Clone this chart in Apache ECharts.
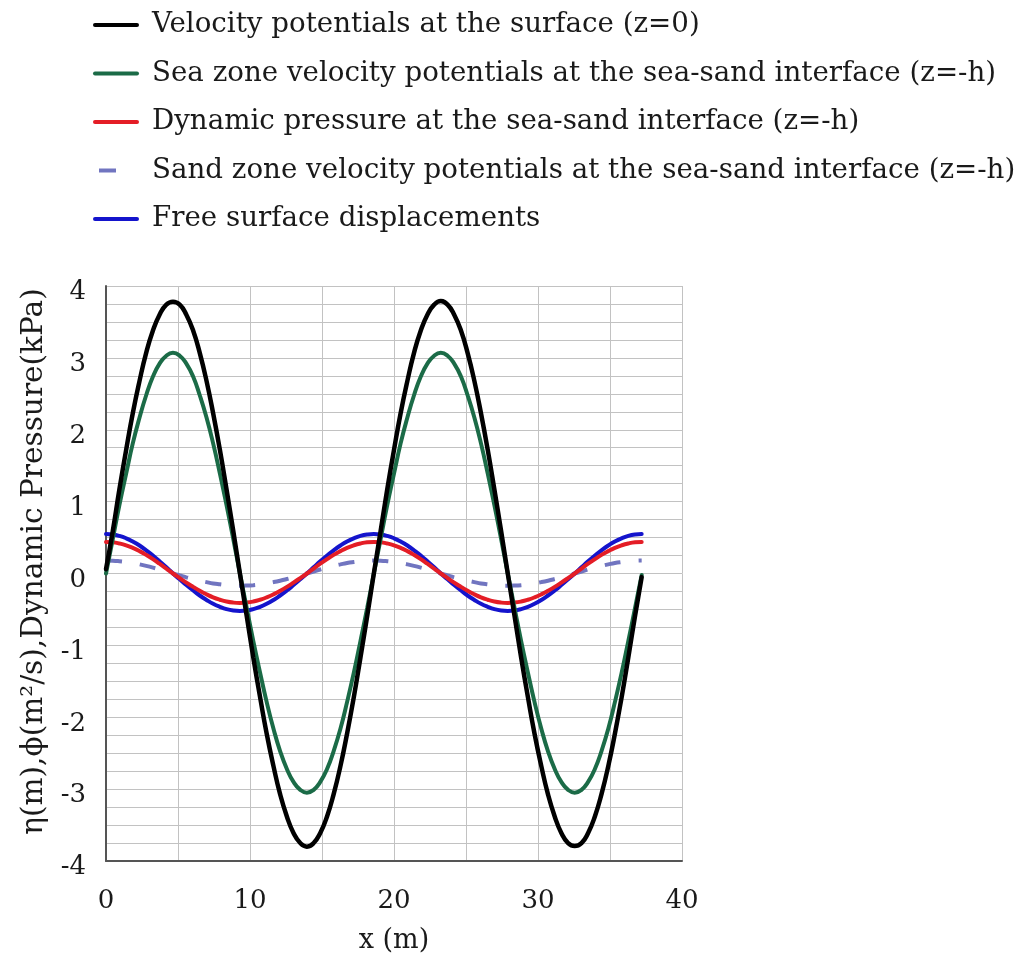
<!DOCTYPE html>
<html>
<head>
<meta charset="utf-8">
<script src="https://cdn.jsdelivr.net/npm/echarts@6/dist/echarts.min.js"></script>
<style>
  html, body { margin: 0; padding: 0; background: #fff; }
  #chart { width: 1022px; height: 963px; }
</style>
</head>
<body>
<div id="chart"></div>
<script>
// Horizontal positions along the profile (m)
const xPos = [
  0, 0.47, 0.93, 1.40, 1.86, 2.33, 2.79, 3.26, 3.72, 4.19,
  4.65, 5.12, 5.58, 6.05, 6.51, 6.98, 7.44, 7.91, 8.37, 8.84,
  9.30, 9.77, 10.23, 10.70, 11.16, 11.63, 12.09, 12.56, 13.02, 13.49,
  13.95, 14.42, 14.88, 15.35, 15.81, 16.28, 16.74, 17.21, 17.67, 18.14,
  18.60, 19.07, 19.53, 20.00, 20.46, 20.93, 21.39, 21.86, 22.32, 22.79,
  23.25, 23.72, 24.18, 24.65, 25.11, 25.58, 26.04, 26.51, 26.97, 27.44,
  27.90, 28.37, 28.83, 29.30, 29.76, 30.23, 30.69, 31.16, 31.62, 32.09,
  32.55, 33.02, 33.48, 33.95, 34.41, 34.88, 35.34, 35.81, 36.27, 36.74,
  37.20];

// Velocity potential at the free surface, z = 0 (m²/s)
const phiSurface = [
  0.06, 0.59, 1.17, 1.72, 2.23, 2.68, 3.07, 3.38, 3.60, 3.74,
  3.78, 3.74, 3.60, 3.38, 3.07, 2.68, 2.23, 1.72, 1.17, 0.59,
  0.00, -0.59, -1.17, -1.72, -2.23, -2.68, -3.07, -3.38, -3.61, -3.75,
  -3.80, -3.75, -3.61, -3.38, -3.07, -2.68, -2.23, -1.72, -1.17, -0.59,
  0.00, 0.59, 1.17, 1.72, 2.23, 2.68, 3.07, 3.38, 3.60, 3.74,
  3.79, 3.74, 3.60, 3.38, 3.07, 2.68, 2.23, 1.72, 1.17, 0.59,
  0.00, -0.59, -1.17, -1.72, -2.23, -2.68, -3.07, -3.38, -3.61, -3.75,
  -3.79, -3.75, -3.61, -3.38, -3.07, -2.68, -2.23, -1.72, -1.17, -0.59,
  -0.05];

// Sea-zone velocity potential at the sea-sand interface, z = -h
const phiSeaBed = [
  0.00, 0.48, 0.95, 1.39, 1.81, 2.17, 2.48, 2.74, 2.92, 3.03,
  3.07, 3.03, 2.92, 2.74, 2.48, 2.17, 1.81, 1.39, 0.95, 0.48,
  0.00, -0.48, -0.94, -1.38, -1.79, -2.16, -2.47, -2.72, -2.90, -3.01,
  -3.05, -3.01, -2.90, -2.72, -2.47, -2.16, -1.79, -1.38, -0.94, -0.48,
  0.00, 0.48, 0.95, 1.39, 1.81, 2.17, 2.48, 2.74, 2.92, 3.03,
  3.07, 3.03, 2.92, 2.74, 2.48, 2.17, 1.81, 1.39, 0.95, 0.48,
  0.00, -0.48, -0.94, -1.38, -1.79, -2.16, -2.47, -2.72, -2.90, -3.01,
  -3.05, -3.01, -2.90, -2.72, -2.47, -2.16, -1.79, -1.38, -0.94, -0.48,
  -0.02];

// Dynamic pressure at the sea-sand interface (kPa)
const pressureBed = [
  0.440, 0.435, 0.418, 0.392, 0.356, 0.311, 0.259, 0.200, 0.136, 0.069,
  0.000, -0.064, -0.127, -0.186, -0.241, -0.290, -0.332, -0.365, -0.390, -0.405,
  -0.410, -0.405, -0.390, -0.365, -0.332, -0.290, -0.241, -0.186, -0.127, -0.064,
  0.000, 0.069, 0.136, 0.200, 0.259, 0.311, 0.356, 0.392, 0.418, 0.435,
  0.440, 0.435, 0.418, 0.392, 0.356, 0.311, 0.259, 0.200, 0.136, 0.069,
  0.000, -0.064, -0.127, -0.186, -0.241, -0.290, -0.332, -0.365, -0.390, -0.405,
  -0.410, -0.405, -0.390, -0.365, -0.332, -0.290, -0.241, -0.186, -0.127, -0.064,
  0.000, 0.069, 0.136, 0.200, 0.259, 0.311, 0.356, 0.392, 0.418, 0.435,
  0.440];

// Sand-zone velocity potential at the sea-sand interface
const phiSandBed = [
  0.180, 0.178, 0.171, 0.160, 0.146, 0.127, 0.106, 0.082, 0.056, 0.028,
  0.000, -0.027, -0.053, -0.077, -0.100, -0.120, -0.138, -0.151, -0.162, -0.168,
  -0.170, -0.168, -0.162, -0.151, -0.138, -0.120, -0.100, -0.077, -0.053, -0.027,
  0.000, 0.028, 0.056, 0.082, 0.106, 0.127, 0.146, 0.160, 0.171, 0.178,
  0.180, 0.178, 0.171, 0.160, 0.146, 0.127, 0.106, 0.082, 0.056, 0.028,
  0.000, -0.027, -0.053, -0.077, -0.100, -0.120, -0.138, -0.151, -0.162, -0.168,
  -0.170, -0.168, -0.162, -0.151, -0.138, -0.120, -0.100, -0.077, -0.053, -0.027,
  0.000, 0.028, 0.056, 0.082, 0.106, 0.127, 0.146, 0.160, 0.171, 0.178,
  0.180];

// Free surface elevation η (m)
const eta = [
  0.550, 0.543, 0.523, 0.490, 0.445, 0.389, 0.323, 0.250, 0.170, 0.086,
  0.000, -0.081, -0.161, -0.236, -0.306, -0.368, -0.421, -0.463, -0.495, -0.514,
  -0.520, -0.514, -0.495, -0.463, -0.421, -0.368, -0.306, -0.236, -0.161, -0.081,
  0.000, 0.086, 0.170, 0.250, 0.323, 0.389, 0.445, 0.490, 0.523, 0.543,
  0.550, 0.543, 0.523, 0.490, 0.445, 0.389, 0.323, 0.250, 0.170, 0.086,
  0.000, -0.081, -0.161, -0.236, -0.306, -0.368, -0.421, -0.463, -0.495, -0.514,
  -0.520, -0.514, -0.495, -0.463, -0.421, -0.368, -0.306, -0.236, -0.161, -0.081,
  0.000, 0.086, 0.170, 0.250, 0.323, 0.389, 0.445, 0.490, 0.523, 0.543,
  0.550];

const seriesNames = [
  'Velocity potentials at the surface (z=0)',
  'Sea zone velocity potentials at the sea-sand interface (z=-h)',
  'Dynamic pressure at the sea-sand interface (z=-h)',
  'Sand zone velocity potentials at the sea-sand interface (z=-h)',
  'Free surface displacements'
];

const FONT = 'DejaVu Serif';
const GRID_COLOR = '#c2c2c2';

function pairs(ys) {
  return xPos.map((x, i) => [x, ys[i]]);
}

function curve(name, ys, color, width, z, dash) {
  return {
    name: name,
    type: 'line',
    data: pairs(ys),
    smooth: true,
    symbol: 'none',
    z: z,
    lineStyle: { color: color, width: width, type: dash || 'solid', cap: dash ? 'butt' : 'round' },
    itemStyle: { color: color },
    emphasis: { disabled: true }
  };
}

const chart = echarts.init(document.getElementById('chart'), null, { renderer: 'canvas' });

chart.setOption({
  animation: false,
  backgroundColor: '#ffffff',
  legend: {
    orient: 'vertical',
    left: 93,
    top: 11,
    padding: 0,
    itemWidth: 42,
    itemHeight: 14,
    itemGap: 20.5,
    selectedMode: false,
    itemStyle: { opacity: 0 },
    textStyle: {
      fontFamily: FONT,
      fontSize: 27.7,
      lineHeight: 28,
      color: '#1a1a1a',
      padding: [0, 0, 0, 10]
    },
    data: [
      { name: seriesNames[0], lineStyle: { width: 4 } },
      { name: seriesNames[1], lineStyle: { width: 4 } },
      { name: seriesNames[2], lineStyle: { width: 4 } },
      { name: seriesNames[3], lineStyle: { width: 4, type: [17, 25], dashOffset: 38 } },
      { name: seriesNames[4], lineStyle: { width: 4 } }
    ]
  },
  grid: { left: 106, right: 340, top: 286, bottom: 102, containLabel: false },
  xAxis: {
    type: 'value',
    min: 0,
    max: 40,
    interval: 10,
    name: 'x (m)',
    nameLocation: 'middle',
    nameGap: 66,
    nameTextStyle: { fontFamily: FONT, fontSize: 27, color: '#1a1a1a' },
    axisLine: { show: true, onZero: false, lineStyle: { color: '#555', width: 2 } },
    axisTick: { show: false },
    axisLabel: { fontFamily: FONT, fontSize: 26, color: '#1a1a1a', margin: 27 },
    splitLine: { show: true, lineStyle: { color: GRID_COLOR, width: 1 } },
    minorTick: { show: false, splitNumber: 2 },
    minorSplitLine: { show: true, lineStyle: { color: GRID_COLOR, width: 1 } }
  },
  yAxis: {
    type: 'value',
    min: -4,
    max: 4,
    interval: 1,
    name: 'η(m),ϕ(m²/s),Dynamic Pressure(kPa)',
    nameLocation: 'middle',
    nameGap: 56,
    nameTextStyle: { fontFamily: FONT, fontSize: 29.6, color: '#1a1a1a', padding: [0, 0, 0, 24] },
    axisLine: { show: true, onZero: false, lineStyle: { color: '#555', width: 2 } },
    axisTick: { show: false },
    axisLabel: {
      fontFamily: FONT,
      fontSize: 26,
      color: '#1a1a1a',
      margin: 20,
      formatter: '{t|{value}}',
      rich: { t: { fontFamily: FONT, fontSize: 26, color: '#1a1a1a', padding: [13, 0, 0, 0] } }
    },
    splitLine: { show: true, lineStyle: { color: GRID_COLOR, width: 1 } },
    minorTick: { show: false, splitNumber: 4 },
    minorSplitLine: { show: true, lineStyle: { color: GRID_COLOR, width: 1 } }
  },
  series: [
    curve(seriesNames[0], phiSurface, '#000000', 4.5, 6),
    curve(seriesNames[1], phiSeaBed, '#1b6b47', 4, 5),
    curve(seriesNames[2], pressureBed, '#e41d26', 4, 4),
    curve(seriesNames[3], phiSandBed, '#7175c0', 4, 2, [16, 18]),
    curve(seriesNames[4], eta, '#1414cc', 4, 3)
  ]
});
</script>
</body>
</html>
